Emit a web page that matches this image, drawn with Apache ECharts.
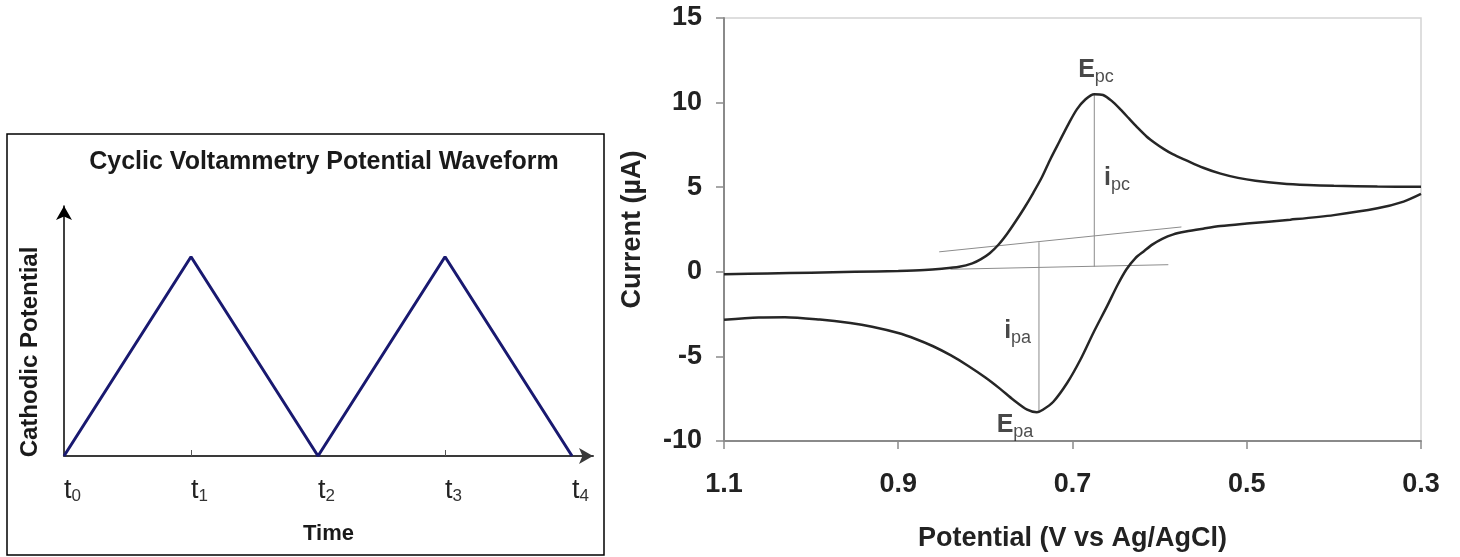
<!DOCTYPE html>
<html>
<head>
<meta charset="utf-8">
<script src="https://cdn.jsdelivr.net/npm/echarts@6/dist/echarts.min.js"></script>
<style>
  html, body { margin: 0; padding: 0; background: #fff; }
  #main { width: 1460px; height: 557px; }
</style>
</head>
<body>
<div id="main"></div>
<script>
const FONT = "'Liberation Sans', Arial, sans-serif";
const NARROW = "'Liberation Sans Narrow', 'Arial Narrow', 'Liberation Sans', sans-serif";

// 左图：循环伏安电位波形
const waveTime = [0, 1, 2, 3, 4];
const wavePotential = [0, 1, 0, 1, 0];
const waveTickValues = [0, 1, 2, 3, 4];

// 右图：正向扫描 (1.1 -> 0.3 V)
const fwdPotential = [1.1, 1.05, 1.0, 0.95, 0.9, 0.87, 0.85, 0.83, 0.815, 0.805, 0.795, 0.785, 0.775, 0.765, 0.755, 0.745, 0.735, 0.725, 0.715, 0.705, 0.695, 0.685, 0.675, 0.665, 0.655, 0.645, 0.635, 0.625, 0.615, 0.605, 0.595, 0.585, 0.57, 0.55, 0.53, 0.51, 0.49, 0.46, 0.43, 0.4, 0.35, 0.3];
const fwdCurrent = [-0.15, -0.1, -0.05, 0.0, 0.05, 0.1, 0.18, 0.3, 0.5, 0.75, 1.1, 1.6, 2.25, 3.0, 3.8, 4.67, 5.6, 6.7, 7.7, 8.7, 9.6, 10.2, 10.5, 10.45, 10.1, 9.6, 9.05, 8.5, 8.0, 7.6, 7.25, 6.95, 6.6, 6.15, 5.8, 5.55, 5.38, 5.22, 5.13, 5.08, 5.04, 5.03];
// 反向扫描 (0.3 -> 1.1 V)
const revPotential = [0.3, 0.32, 0.35, 0.4, 0.45, 0.5, 0.53, 0.55, 0.57, 0.585, 0.597, 0.608, 0.618, 0.628, 0.638, 0.648, 0.66, 0.676, 0.691, 0.706, 0.722, 0.734, 0.741, 0.752, 0.768, 0.783, 0.8, 0.82, 0.84, 0.86, 0.88, 0.9, 0.93, 0.955, 0.99, 1.03, 1.06, 1.1];
const revCurrent = [4.6, 4.15, 3.75, 3.35, 3.08, 2.85, 2.7, 2.55, 2.38, 2.2, 1.95, 1.62, 1.22, 0.8, 0.15, -0.75, -2.0, -3.6, -5.2, -6.56, -7.68, -8.15, -8.3, -8.15, -7.56, -6.92, -6.25, -5.55, -4.93, -4.4, -3.97, -3.62, -3.25, -3.03, -2.82, -2.68, -2.7, -2.84];

// 基线和峰电流竖线
const slopeBaseV = [0.853, 0.575];
const slopeBaseI = [1.18, 2.65];
const flatBaseV = [0.84, 0.59];
const flatBaseI = [0.15, 0.42];
const ipcLineV = [0.675, 0.675];
const ipcLineI = [0.3, 10.5];
const ipaLineV = [0.7385, 0.7385];
const ipaLineI = [1.75, -8.28];

// 峰标注
const peakNames = ["E", "i", "i", "E"];
const peakSubs = ["pc", "pc", "pa", "pa"];
const peakV = [0.673, 0.649, 0.763, 0.766];
const peakI = [11.9, 5.55, -3.5, -9.04];

const zip = (xs, ys) => xs.map((x, k) => [x, ys[k]]);

const chart = echarts.init(document.getElementById("main"));
chart.setOption({
  animation: false,
  title: {
    text: "Cyclic Voltammetry Potential Waveform",
    left: 324,
    top: 150,
    padding: 0,
    textAlign: "center",
    textStyle: { fontFamily: FONT, fontSize: 25, fontWeight: "bold", color: "#1a1a1a" },
  },
  graphic: [
    {
      type: "rect",
      z: -10,
      shape: { x: 7, y: 134, width: 597, height: 421 },
      style: { fill: "none", stroke: "#000", lineWidth: 1.5 },
    },
    {
      type: "text",
      x: 30,
      y: 352,
      rotation: Math.PI / 2,
      style: {
        text: "Cathodic Potential",
        font: "bold 24px " + FONT,
        fill: "#1a1a1a",
        align: "center",
        verticalAlign: "middle",
      },
    },
  ],
  grid: [
    { left: 64, right: 867, top: 206, bottom: 101 },
    { left: 724, right: 39, top: 18, bottom: 116, show: true, borderColor: "#d4d4d4", borderWidth: 1.5 },
  ],
  xAxis: [
    {
      gridIndex: 0,
      type: "value",
      min: 0,
      max: 4.165,
      splitLine: { show: false },
      axisLine: {
        show: true,
        symbol: ["none", "arrow"],
        symbolSize: [12, 14],
        lineStyle: { color: "#3a3a3a", width: 2 },
      },
      axisTick: { show: true, inside: true, length: 6, customValues: [1, 3], lineStyle: { color: "#555" } },
      axisLabel: {
        customValues: waveTickValues,
        align: "left",
        margin: 20,
        formatter: (v) => "{t|t}{n|" + v + "}",
        rich: {
          t: { fontFamily: NARROW, fontSize: 27, color: "#222" },
          n: { fontFamily: NARROW, fontSize: 17, color: "#333", padding: [12, 0, 0, 0] },
        },
      },
      name: "Time",
      nameLocation: "middle",
      nameGap: 67,
      nameTextStyle: { fontFamily: FONT, fontSize: 22, fontWeight: "bold", color: "#1a1a1a" },
    },
    {
      gridIndex: 1,
      type: "value",
      inverse: true,
      min: 0.3,
      max: 1.1,
      interval: 0.2,
      splitLine: { show: false },
      axisLine: { show: true, onZero: false, lineStyle: { color: "#8a8a8a", width: 2 } },
      axisTick: { show: true, length: 8, lineStyle: { color: "#8a8a8a", width: 1.5 } },
      axisLabel: {
        margin: 30,
        fontFamily: FONT,
        fontSize: 27,
        fontWeight: "bold",
        color: "#222",
        formatter: (v) => v.toFixed(1),
      },
      name: "Potential (V vs Ag/AgCl)",
      nameLocation: "middle",
      nameGap: 84,
      nameTextStyle: { fontFamily: FONT, fontSize: 27, fontWeight: "bold", color: "#222" },
    },
  ],
  yAxis: [
    {
      gridIndex: 0,
      type: "value",
      min: 0,
      max: 1.255,
      splitLine: { show: false },
      axisLine: {
        show: true,
        symbol: ["none", "arrow"],
        symbolSize: [12, 14],
        lineStyle: { color: "#000", width: 1.5 },
      },
      axisTick: { show: false },
      axisLabel: { show: false },
    },
    {
      gridIndex: 1,
      type: "value",
      min: -10,
      max: 15,
      interval: 5,
      splitLine: { show: false },
      axisLine: { show: true, onZero: false, lineStyle: { color: "#8a8a8a", width: 2 } },
      axisTick: { show: true, length: 8, lineStyle: { color: "#8a8a8a", width: 1.5 } },
      axisLabel: { margin: 22, fontFamily: FONT, fontSize: 27, fontWeight: "bold", color: "#222" },
      name: "Current (µA)",
      nameLocation: "middle",
      nameGap: 78,
      nameTextStyle: { fontFamily: FONT, fontSize: 27, fontWeight: "bold", color: "#222" },
    },
  ],
  series: [
    {
      type: "line",
      xAxisIndex: 0,
      yAxisIndex: 0,
      data: zip(waveTime, wavePotential),
      showSymbol: false,
      lineStyle: { color: "#191970", width: 3 },
      z: 5,
    },
    {
      type: "line",
      xAxisIndex: 1,
      yAxisIndex: 1,
      data: zip(slopeBaseV, slopeBaseI),
      showSymbol: false,
      lineStyle: { color: "#8c8c8c", width: 1 },
    },
    {
      type: "line",
      xAxisIndex: 1,
      yAxisIndex: 1,
      data: zip(flatBaseV, flatBaseI),
      showSymbol: false,
      lineStyle: { color: "#8c8c8c", width: 1 },
    },
    {
      type: "line",
      xAxisIndex: 1,
      yAxisIndex: 1,
      data: zip(ipcLineV, ipcLineI),
      showSymbol: false,
      lineStyle: { color: "#8c8c8c", width: 1 },
    },
    {
      type: "line",
      xAxisIndex: 1,
      yAxisIndex: 1,
      data: zip(ipaLineV, ipaLineI),
      showSymbol: false,
      lineStyle: { color: "#8c8c8c", width: 1 },
    },
    {
      type: "line",
      xAxisIndex: 1,
      yAxisIndex: 1,
      data: zip(fwdPotential, fwdCurrent),
      showSymbol: false,
      smooth: 0.3,
      lineStyle: { color: "#262626", width: 2.5 },
      z: 4,
    },
    {
      type: "line",
      xAxisIndex: 1,
      yAxisIndex: 1,
      data: zip(revPotential, revCurrent),
      showSymbol: false,
      smooth: 0.3,
      lineStyle: { color: "#262626", width: 2.5 },
      z: 4,
    },
    {
      type: "scatter",
      xAxisIndex: 1,
      yAxisIndex: 1,
      silent: true,
      symbolSize: 0,
      data: peakV.map((v, k) => ({ value: [v, peakI[k]], name: peakNames[k], sub: peakSubs[k] })),
      label: {
        show: true,
        position: "inside",
        formatter: (p) => "{m|" + p.data.name + "}{s|" + p.data.sub + "}",
        rich: {
          m: { fontFamily: FONT, fontSize: 25, fontWeight: "bold", color: "#1a1a1a" },
          s: { fontFamily: FONT, fontSize: 18, color: "#222", padding: [14, 0, 0, 0] },
        },
      },
    },
  ],
});
</script>
</body>
</html>
